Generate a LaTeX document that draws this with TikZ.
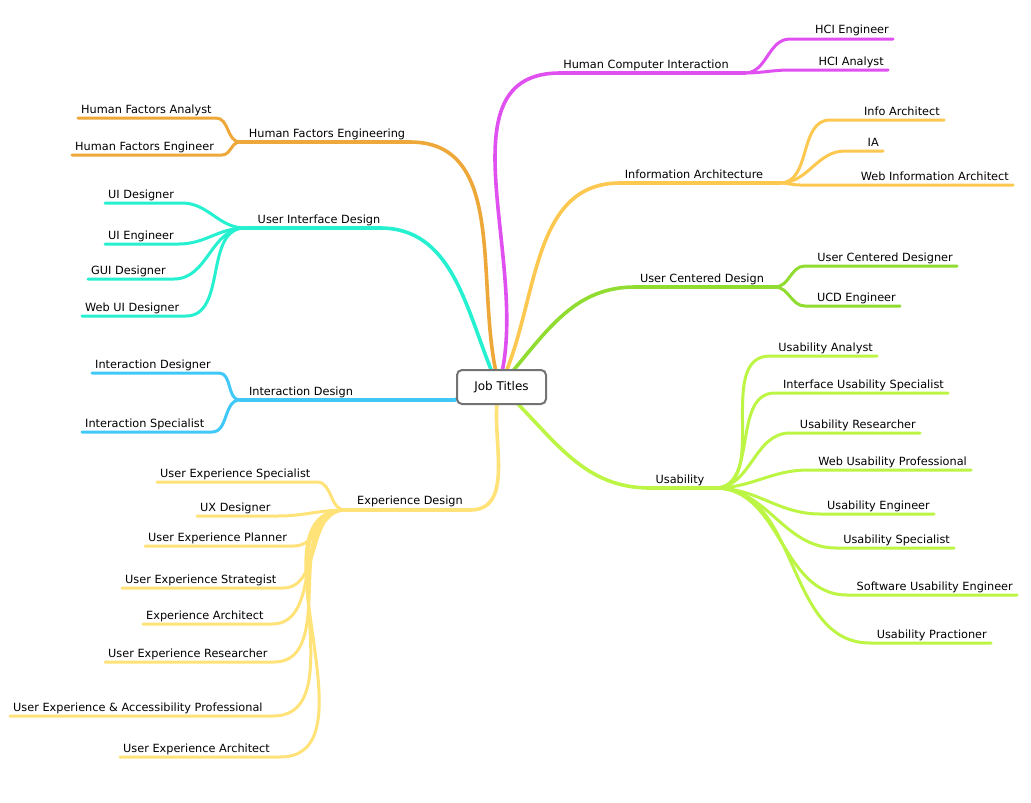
\documentclass[tikz,border=0pt]{standalone}
\usepackage{fontspec}
\setmainfont{DejaVu Sans}
\begin{document}
\begin{tikzpicture}[x=1pt,y=-1pt,
  lbl/.style={font=\fontsize{11.3}{13}\selectfont,inner sep=0pt},
  br/.style={line width=3.6pt,line cap=round},
  lf/.style={line width=3pt,line cap=round}]
\definecolor{cHCI}{HTML}{E050F0}
\definecolor{cIA}{HTML}{FDC850}
\definecolor{cUCD}{HTML}{90DC30}
\definecolor{cUS}{HTML}{BDF545}
\definecolor{cHF}{HTML}{EEA83A}
\definecolor{cUI}{HTML}{25F0D0}
\definecolor{cID}{HTML}{40C8F8}
\definecolor{cED}{HTML}{FFE278}
\fill[white] (0,0) rectangle (1031,803);
\newcommand\leafR[6]{\draw[lf,#1] (#2) to[out=0,in=180] (#3,#5) -- (#4,#5);
  \node[lbl,anchor=base east] at (#4-4,#5-5) {#6};}
\newcommand\leafL[6]{\draw[lf,#1] (#2) to[out=180,in=0] (#3,#5) -- (#4,#5);
  \node[lbl,anchor=base west] at (#4+3,#5-5) {#6};}
% main branches
\coordinate (hHCI) at (745,73);
\coordinate (hIA) at (780,183);
\coordinate (hUCD) at (775,287);
\coordinate (hUS) at (715,488);
\coordinate (hHF) at (240,142);
\coordinate (hUI) at (245,228);
\coordinate (hID) at (240,400);
\coordinate (hED) at (345,510);
\draw[br,cHCI] (502,372) to[out=78,in=180] (560,73) -- (hHCI);
\draw[br,cIA] (506,372) to[out=68,in=180] (620,183) -- (hIA);
\draw[br,cUCD] (512,372) to[out=50,in=180] (635,287) -- (hUCD);
\draw[br,cUS] (512,398) to[out=-45,in=180] (650,488) -- (hUS);
\draw[br,cHF] (496,372) to[out=102,in=0] (410,142) -- (hHF);
\draw[br,cUI] (492,372) to[out=112,in=0] (380,228) -- (hUI);
\draw[br,cID] (460,396) to[out=180,in=0] (455,400) -- (hID);
\draw[br,cED] (497,402) to[out=-95,in=0] (470,510) -- (hED);
\node[lbl,anchor=base] at (646,68) {Human Computer Interaction};
\node[lbl,anchor=base] at (694,178) {Information Architecture};
\node[lbl,anchor=base] at (702,282) {User Centered Design};
\node[lbl,anchor=base] at (680,483) {Usability};
\node[lbl,anchor=base] at (327,137) {Human Factors Engineering};
\node[lbl,anchor=base] at (319,223) {User Interface Design};
\node[lbl,anchor=base] at (301,395) {Interaction Design};
\node[lbl,anchor=base] at (410,504) {Experience Design};
% center
\node[draw=gray!90!black,line width=2pt,rounded corners=5pt,fill=white,
  minimum width=89pt,minimum height=34pt,font=\fontsize{12}{14}\selectfont]
  (c) at (501.5,387) {Job Titles};
% leaves right
\leafR{cHCI}{hHCI}{790}{893}{39}{HCI Engineer}
\leafR{cHCI}{hHCI}{790}{888}{70}{HCI Analyst}
\leafR{cIA}{hIA}{830}{944}{120}{Info Architect}
\leafR{cIA}{hIA}{845}{883}{151}{IA}
\leafR{cIA}{hIA}{800}{1013}{185}{Web Information Architect}
\leafR{cUCD}{hUCD}{805}{957}{266}{User Centered Designer}
\leafR{cUCD}{hUCD}{805}{900}{306}{UCD Engineer}
\leafR{cUS}{hUS}{770}{877}{356}{Usability Analyst}
\leafR{cUS}{hUS}{775}{948}{393}{Interface Usability Specialist}
\leafR{cUS}{hUS}{790}{920}{433}{Usability Researcher}
\leafR{cUS}{hUS}{808}{971}{470}{Web Usability Professional}
\leafR{cUS}{hUS}{820}{934}{514}{Usability Engineer}
\leafR{cUS}{hUS}{836}{954}{548}{Usability Specialist}
\leafR{cUS}{hUS}{847}{1017}{595}{Software Usability Engineer}
\leafR{cUS}{hUS}{870}{991}{643}{Usability Practioner}
% leaves left
\leafL{cHF}{hHF}{216}{78}{118}{Human Factors Analyst}
\leafL{cHF}{hHF}{222}{72}{155}{Human Factors Engineer}
\leafL{cUI}{hUI}{182}{105}{203}{UI Designer}
\leafL{cUI}{hUI}{179}{105}{244}{UI Engineer}
\leafL{cUI}{hUI}{174}{88}{279}{GUI Designer}
\leafL{cUI}{hUI}{186}{82}{316}{Web UI Designer}
\leafL{cID}{hID}{219}{92}{373}{Interaction Designer}
\leafL{cID}{hID}{212}{82}{432}{Interaction Specialist}
\leafL{cED}{hED}{317}{157}{482}{User Experience Specialist}
\leafL{cED}{hED}{278}{197}{516}{UX Designer}
\leafL{cED}{hED}{294}{145}{546}{User Experience Planner}
\leafL{cED}{hED}{283}{122}{588}{User Experience Strategist}
\leafL{cED}{hED}{272}{143}{624}{Experience Architect}
\leafL{cED}{hED}{274}{105}{662}{User Experience Researcher}
\leafL{cED}{hED}{273}{10}{716}{User Experience \& Accessibility Professional}
\leafL{cED}{hED}{280}{120}{757}{User Experience Architect}
\end{tikzpicture}
\end{document}
